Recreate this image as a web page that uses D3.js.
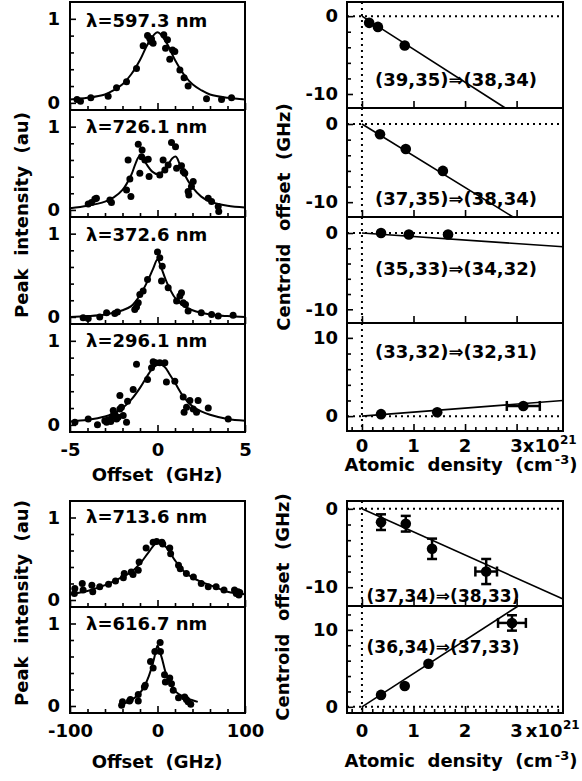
<!DOCTYPE html>
<html><head><meta charset="utf-8">
<script src="https://cdn.jsdelivr.net/npm/d3@7"></script>
<style>
body{margin:0;background:#fff}
svg text{font-family:"DejaVu Sans",sans-serif;font-weight:bold;font-size:18px;fill:#000;white-space:pre}
</style></head><body>
<svg width="582" height="781" xml:space="preserve"></svg>
<script>
// ---------- data: left panels (offset GHz, peak intensity au) ----------
const wl597Label = "λ=597.3 nm";
const wl597Pts = [[-4.6,0.04],[-4.4,0.02],[-3.81,0.06],[-2.82,0.08],[-2.34,0.18],[-1.77,0.25],[-1.2,0.41],[-0.82,0.68],[-0.57,0.8],[-0.45,0.77],[-0.38,0.73],[-0.25,0.71],[-0.34,0.76],[0.36,0.81],[0.57,0.75],[0.46,0.65],[0.86,0.63],[0.99,0.61],[0.7,0.52],[1.28,0.39],[1.52,0.3],[1.75,0.2],[2.8,0.05],[3.66,0.04],[4.23,0.06]];
const wl597Fit = [[-5,0.04],[-4,0.06],[-3,0.1],[-2.5,0.15],[-2,0.22],[-1.5,0.34],[-1,0.51],[-0.5,0.72],[0,0.84],[0.5,0.72],[1,0.51],[1.5,0.34],[2,0.22],[2.5,0.15],[3,0.1],[4,0.06],[5,0.04]];

const wl726Label = "λ=726.1 nm";
const wl726Pts = [[-3.96,0.07],[-3.77,0.09],[-3.58,0.13],[-3.49,0.14],[-2.72,0.12],[-2.63,0.09],[-1.77,0.24],[-1.68,0.6],[-1.58,0.37],[-1.52,0.16],[-1.1,0.79],[-0.88,0.72],[-0.91,0.64],[-1.01,0.44],[-0.72,0.6],[-0.53,0.61],[-0.48,0.4],[0.13,0.42],[0.32,0.6],[0.42,0.48],[0.61,0.54],[0.8,0.81],[1.03,0.76],[1.09,0.5],[1.37,0.53],[1.47,0.46],[1.56,0.44],[2.04,0.34],[1.94,0.28],[1.79,0.18],[1.75,0.22],[2.9,0.14],[3.09,0.1],[3.47,0.04],[3.5,-0.02]];
const wl726Fit = [[-5,0.02],[-4,0.05],[-3,0.1],[-2.5,0.15],[-2,0.24],[-1.5,0.42],[-1.25,0.56],[-1.05,0.64],[-0.85,0.62],[-0.6,0.54],[-0.3,0.46],[0,0.43],[0.3,0.46],[0.6,0.54],[0.85,0.62],[1.05,0.64],[1.25,0.56],[1.5,0.44],[2,0.27],[2.5,0.16],[3,0.1],[4,0.05],[5,0.03]];

const wl372Label = "λ=372.6 nm";
const wl372Pts = [[-4.25,-0.01],[-3.96,-0.02],[-3.3,0.0],[-2.91,0.05],[-2.44,0.04],[-2.29,0.06],[-1.3,0.09],[-1.2,0.12],[-1.1,0.17],[-1.01,0.27],[-0.82,0.31],[-0.57,0.45],[0,0.78],[0.13,0.71],[0.27,0.61],[0.23,0.43],[0.61,0.35],[1.09,0.19],[1.28,0.25],[1.37,0.29],[1.47,0.17],[1.6,0.15],[1.75,0.07],[2.5,0.05],[3.09,0.03],[3.47,0.01],[4.32,0.02]];
const wl372Fit = [[-5,0],[-4,0.01],[-3,0.03],[-2,0.08],[-1.5,0.13],[-1,0.26],[-0.5,0.46],[-0.25,0.58],[0,0.69],[0.25,0.57],[0.5,0.43],[1,0.23],[1.5,0.13],[2,0.08],[3,0.03],[4,0.01],[5,0]];

const wl296Label = "λ=296.1 nm";
const wl296Pts = [[-4.72,0.03],[-3.96,0.07],[-3.43,0.0],[-3.01,0.05],[-2.91,0.03],[-2.82,0.06],[-2.67,0.04],[-2.59,0.1],[-2.53,0.17],[-2.44,0.13],[-2.34,0.07],[-2.25,0.09],[-2.15,0.35],[-2.15,0.19],[-2.06,0.21],[-1.96,0.11],[-1.77,0.03],[-1.71,0.28],[-1.39,0.42],[-1.2,0.72],[-0.57,0.54],[-0.34,0.68],[-0.25,0.75],[-0.11,0.74],[0.13,0.74],[0.42,0.74],[0.51,0.51],[0.99,0.52],[1.47,0.33],[1.52,0.15],[1.66,0.21],[1.85,0.29],[2.04,0.19],[2.23,0.15],[2.32,0.29],[2.9,0.2],[4.04,0.07]];
const wl296Fit = [[-5,0.04],[-4,0.06],[-3,0.1],[-2.5,0.14],[-2,0.2],[-1.5,0.3],[-1,0.44],[-0.5,0.61],[-0.2,0.69],[0.1,0.72],[0.4,0.69],[0.7,0.6],[1,0.5],[1.5,0.33],[2,0.22],[2.5,0.16],[3,0.12],[4,0.07],[5,0.05]];

const wl713Label = "λ=713.6 nm";
const wl713Pts = [[-95,0.08],[-94.5,0.14],[-86,0.2],[-85,0.12],[-75,0.18],[-74,0.1],[-66,0.16],[-56,0.19],[-48,0.23],[-39,0.27],[-38,0.32],[-30,0.34],[-28,0.31],[-22,0.36],[-21,0.46],[-13,0.63],[-5,0.7],[-1,0.71],[5,0.7],[6,0.68],[14,0.63],[15,0.56],[24,0.42],[26,0.38],[33,0.32],[41,0.28],[50,0.2],[58,0.16],[67,0.16],[76,0.12],[88,0.12],[90,0.08],[92,0.1],[93,0.06],[94,0.09]];
const wl713Fit = [[-100,0.07],[-80,0.11],[-60,0.18],[-40,0.28],[-30,0.34],[-20,0.44],[-10,0.58],[0,0.7],[10,0.64],[20,0.48],[30,0.35],[40,0.27],[50,0.22],[60,0.18],[80,0.1],[100,0.07]];

const wl616Label = "λ=616.7 nm";
const wl616Pts = [[-41,0.01],[-40,0.05],[-32,0.06],[-31,0.08],[-22,0.14],[-22,0.06],[-15,0.23],[-14,0.25],[-8,0.54],[-5,0.46],[-3,0.66],[3,0.77],[3.4,0.66],[8,0.38],[9,0.29],[14,0.34],[16,0.27],[18,0.19],[24,0.1],[31,0.11],[33,0.08],[35,0.05],[38,0.02]];
const wl616Fit = [[-42,0.01],[-30,0.07],[-20,0.16],[-15,0.24],[-10,0.36],[-5,0.53],[-2,0.66],[0,0.73],[2,0.68],[5,0.58],[10,0.38],[15,0.26],[20,0.18],[30,0.11],[40,0.07],[46,0.05]];

// ---------- data: right panels (atomic density 1e21 cm^-3, centroid offset GHz) ----------
const c1Label = "(39,35)⇒(38,34)";
const c1Pts = [[0.14,-0.86],[0.31,-1.38],[0.83,-3.76]];
const c1Fit = [[0,0],[2.78,-11.8]];
const c2Label = "(37,35)⇒(38,34)";
const c2Pts = [[0.35,-1.3],[0.85,-3.2],[1.57,-6.0]];
const c2Fit = [[0,0],[2.93,-11.9]];
const c3Label = "(35,33)⇒(34,32)";
const c3Pts = [[0.37,0.0],[0.91,-0.2],[1.67,-0.2]];
const c3Fit = [[0,0],[3.9,-1.8]];
const c4Label = "(33,32)⇒(32,31)";
const c4Pts = [[0.37,0.25],[1.46,0.5],[3.13,1.3]];
const c4Xerr = [0,0,0.32];
const c4Fit = [[0,0],[3.9,2.0]];
const d1Label = "(37,34)⇒(38,33)";
const d1Pts = [[0.37,-1.7],[0.85,-1.9],[1.36,-5.1],[2.41,-8.0]];
const d1Yerr = [1.0,1.0,1.3,1.6];
const d1Xerr = [0,0,0,0.21];
const d1Fit = [[0,0],[3.9,-11.5]];
const d2Label = "(36,34)⇒(37,33)";
const d2Pts = [[0.37,1.55],[0.83,2.7],[1.29,5.6],[2.91,10.9]];
const d2Yerr = [0,0,0,1.0];
const d2Xerr = [0,0,0,0.27];
const d2Fit = [[0,0],[3.03,13.1]];

const intensityTicks = [0,1];
const intensityMinor = [0.2,0.4,0.6,0.8];
const ghzTicksSmall = [-5,0,5];
const ghzTicksLarge = [-100,0,100];
const densityTicks = [0,1,2,3];

// ---------- drawing ----------
const svg = d3.select("svg");
const L0 = 70, L1 = 245, R0 = 347, R1 = 563;
const framesG = [];

function clean(sel){
  sel.select(".domain").remove();
  sel.selectAll(".tick line").attr("stroke","#000").attr("stroke-width",1.6);
}

function leftPanel(o){
  const x = d3.scaleLinear().domain(o.xd).range([L0,L1]);
  const y = d3.scaleLinear().domain([-0.085,1.2]).range([o.y1,o.y0]);
  const g = svg.append("g");
  g.append("g").attr("transform",`translate(${L0},0)`)
    .call(d3.axisLeft(y).tickValues(intensityTicks).tickSize(-6).tickPadding(10).tickFormat(d3.format("d"))).call(clean);
  g.append("g").attr("transform",`translate(${L0},0)`)
    .call(d3.axisLeft(y).tickValues(intensityMinor).tickSize(-4).tickFormat("")).call(clean);
  const maj = g.append("g").attr("transform",`translate(0,${o.y1})`)
    .call(d3.axisBottom(x).tickValues(o.xMajor).tickSize(-7).tickFormat(o.showX ? d3.format("d") : "")).call(clean);
  maj.selectAll("text").attr("y", o.tickBase - o.y1).attr("dy", 0).text(d => o.showX ? (d < 0 ? "-" + Math.abs(d) : d) : "");
  g.append("g").attr("transform",`translate(0,${o.y1})`)
    .call(d3.axisBottom(x).tickValues(o.xMinor).tickSize(-4).tickFormat("")).call(clean);
  g.append("path").datum(o.fit)
    .attr("d", d3.line().x(d=>x(d[0])).y(d=>y(d[1])).curve(d3.curveCatmullRom.alpha(0.5)))
    .attr("fill","none").attr("stroke","#000").attr("stroke-width",2);
  g.selectAll("circle.p").data(o.pts).join("circle")
    .attr("cx",d=>x(d[0])).attr("cy",d=>y(d[1])).attr("r",3.5).attr("fill","#000");
  g.append("text").attr("x",86).attr("y",o.labelY).text(o.label);
  framesG.push([L0,L1,o.y0,o.y1]);
}

function rightPanel(o){
  const x = d3.scaleLinear().domain([-0.29,3.9]).range([R0,R1]);
  const y = d3.scaleLinear().domain(o.yd).range([o.y1,o.y0]);
  const g = svg.append("g");
  g.append("g").attr("transform",`translate(${R0},0)`)
    .call(d3.axisLeft(y).tickValues(o.yMajor).tickSize(-6).tickPadding(9).tickFormat(d => d < 0 ? "-" + Math.abs(d) : d)).call(clean);
  g.append("g").attr("transform",`translate(${R0},0)`)
    .call(d3.axisLeft(y).tickValues(o.yMinor).tickSize(-4).tickFormat("")).call(clean);
  g.append("g").attr("transform",`translate(0,${o.y1})`)
    .call(d3.axisBottom(x).tickValues(densityTicks).tickSize(-7).tickFormat("")).call(clean);
  if (o.showX){
    g.append("g").attr("transform",`translate(0,${o.y1})`)
      .call(d3.axisBottom(x).tickValues(d3.range(-0.2,3.81,0.2).filter(v=>Math.abs(v-Math.round(v))>0.05)).tickSize(-4).tickFormat("")).call(clean);
    const ty = o.tickBase;
    densityTicks.forEach(v=>{
      if (v < 3){
        g.append("text").attr("x",x(v)).attr("y",ty).attr("text-anchor","middle").text(v);
      } else {
        const t = g.append("text").attr("x",x(v)-6.3).attr("y",ty).attr("text-anchor","start");
        t.append("tspan").text("3");
        t.append("tspan").attr("dx", o.sep ? 3 : 0).text("x10");
        t.append("tspan").attr("dy",-8).attr("dx",0.5).style("font-size","12px").text("21");
      }
    });
  }
  // dotted zero lines
  g.append("line").attr("x1",R0).attr("x2",R1).attr("y1",y(0)).attr("y2",y(0))
    .attr("stroke","#000").attr("stroke-width",2).attr("stroke-dasharray","2,4");
  g.append("line").attr("x1",x(0)).attr("x2",x(0)).attr("y1",o.y0).attr("y2",o.y1)
    .attr("stroke","#000").attr("stroke-width",2).attr("stroke-dasharray","2,4");
  g.append("path").datum(o.fit)
    .attr("d", d3.line().x(d=>x(d[0])).y(d=>y(d[1])))
    .attr("fill","none").attr("stroke","#000").attr("stroke-width",1.6);
  const cap = 5;
  o.pts.forEach((d,i)=>{
    const xe = o.xerr ? o.xerr[i] : 0, ye = o.yerr ? o.yerr[i] : 0;
    if (xe){
      g.append("line").attr("x1",x(d[0]-xe)).attr("x2",x(d[0]+xe)).attr("y1",y(d[1])).attr("y2",y(d[1])).attr("stroke","#000").attr("stroke-width",2.5);
      [d[0]-xe,d[0]+xe].forEach(v=>g.append("line").attr("x1",x(v)).attr("x2",x(v)).attr("y1",y(d[1])-cap).attr("y2",y(d[1])+cap).attr("stroke","#000").attr("stroke-width",2.5));
    }
    if (ye){
      g.append("line").attr("x1",x(d[0])).attr("x2",x(d[0])).attr("y1",y(d[1]-ye)).attr("y2",y(d[1]+ye)).attr("stroke","#000").attr("stroke-width",2.5);
      [d[1]-ye,d[1]+ye].forEach(v=>g.append("line").attr("x1",x(d[0])-cap).attr("x2",x(d[0])+cap).attr("y1",y(v)).attr("y2",y(v)).attr("stroke","#000").attr("stroke-width",2.5));
    }
  });
  g.selectAll("circle.p").data(o.pts).join("circle")
    .attr("cx",d=>x(d[0])).attr("cy",d=>y(d[1])).attr("r",5.3).attr("fill","#000");
  g.append("text").attr("x",o.labelX).attr("y",o.labelY).attr("text-anchor","middle")
    .style("font-size",o.labelSize+"px").text(o.label);
  framesG.push([R0,R1,o.y0,o.y1]);
}

const ghzMinorSmall = d3.range(-4,5,1).filter(v=>v!==0);
const ghzMinorLarge = d3.range(-80,81,20).filter(v=>v!==0);

// top-left block
leftPanel({y0:2,y1:110,xd:[-5,5],xMajor:ghzTicksSmall,xMinor:ghzMinorSmall,showX:false,pts:wl597Pts,fit:wl597Fit,label:wl597Label,labelY:27});
leftPanel({y0:110,y1:217,xd:[-5,5],xMajor:ghzTicksSmall,xMinor:ghzMinorSmall,showX:false,pts:wl726Pts,fit:wl726Fit,label:wl726Label,labelY:133});
leftPanel({y0:217,y1:324,xd:[-5,5],xMajor:ghzTicksSmall,xMinor:ghzMinorSmall,showX:false,pts:wl372Pts,fit:wl372Fit,label:wl372Label,labelY:241});
leftPanel({y0:324,y1:432,xd:[-5,5],xMajor:ghzTicksSmall,xMinor:ghzMinorSmall,showX:true,tickBase:456,pts:wl296Pts,fit:wl296Fit,label:wl296Label,labelY:347});
// bottom-left block
leftPanel({y0:501,y1:607,xd:[-100,100],xMajor:ghzTicksLarge,xMinor:ghzMinorLarge,showX:false,pts:wl713Pts,fit:wl713Fit,label:wl713Label,labelY:523});
leftPanel({y0:607,y1:713,xd:[-100,100],xMajor:ghzTicksLarge,xMinor:ghzMinorLarge,showX:true,tickBase:737,pts:wl616Pts,fit:wl616Fit,label:wl616Label,labelY:630});

// top-right block
rightPanel({y0:2,y1:108,yd:[-11.8,1.82],yMajor:[0,-10],yMinor:[-2,-4,-6,-8],pts:c1Pts,fit:c1Fit,label:c1Label,labelX:456,labelY:86,labelSize:18});
rightPanel({y0:108,y1:217,yd:[-11.9,2.05],yMajor:[0,-10],yMinor:[-2,-4,-6,-8],pts:c2Pts,fit:c2Fit,label:c2Label,labelX:456,labelY:205,labelSize:18});
rightPanel({y0:217,y1:323,yd:[-11.8,2.1],yMajor:[0,-10],yMinor:[-2,-4,-6,-8],pts:c3Pts,fit:c3Fit,label:c3Label,labelX:456,labelY:275,labelSize:18});
rightPanel({y0:323,y1:431,yd:[-1.9,11.9],yMajor:[0,10],yMinor:[2,4,6,8],pts:c4Pts,xerr:c4Xerr,fit:c4Fit,label:c4Label,labelX:456,labelY:358,labelSize:18,showX:true,tickBase:452});
// bottom-right block
rightPanel({y0:501,y1:606,yd:[-12.4,1.0],yMajor:[0,-10],yMinor:[-2,-4,-6,-8],pts:d1Pts,xerr:d1Xerr,yerr:d1Yerr,fit:d1Fit,label:d1Label,labelX:443,labelY:602,labelSize:17});
rightPanel({y0:606,y1:713,yd:[-0.8,13.1],yMajor:[0,10],yMinor:[2,4,6,8,12],pts:d2Pts,xerr:d2Xerr,yerr:d2Yerr,fit:d2Fit,label:d2Label,labelX:443,labelY:653,labelSize:17,showX:true,tickBase:737,sep:true});

// frames
framesG.forEach(f=>{
  svg.append("rect").attr("x",f[0]).attr("y",f[2]).attr("width",f[1]-f[0]).attr("height",f[3]-f[2])
    .attr("fill","none").attr("stroke","#000").attr("stroke-width",2);
});

// axis titles
function ytitle(x,y,txt){
  svg.append("text").attr("transform",`translate(${x},${y}) rotate(-90)`).attr("text-anchor","middle").text(txt);
}
ytitle(28,215,"Peak  intensity  (au)");
ytitle(28,603,"Peak  intensity  (au)");
ytitle(290,217,"Centroid  offset  (GHz)");
ytitle(289,607,"Centroid  offset  (GHz)");
function xtitleOffset(y){
  svg.append("text").attr("x",157).attr("y",y).attr("text-anchor","middle").text("Offset  (GHz)");
}
xtitleOffset(481);
xtitleOffset(768);
function xtitleDensity(y){
  const t = svg.append("text").attr("x",461).attr("y",y).attr("text-anchor","middle");
  t.append("tspan").text("Atomic  density  (cm");
  t.append("tspan").attr("dy",-7).attr("dx",2).style("font-size","13px").text("-3");
  t.append("tspan").attr("dy",7).text(")");
}
xtitleDensity(471);
xtitleDensity(767);
</script>
</body></html>
